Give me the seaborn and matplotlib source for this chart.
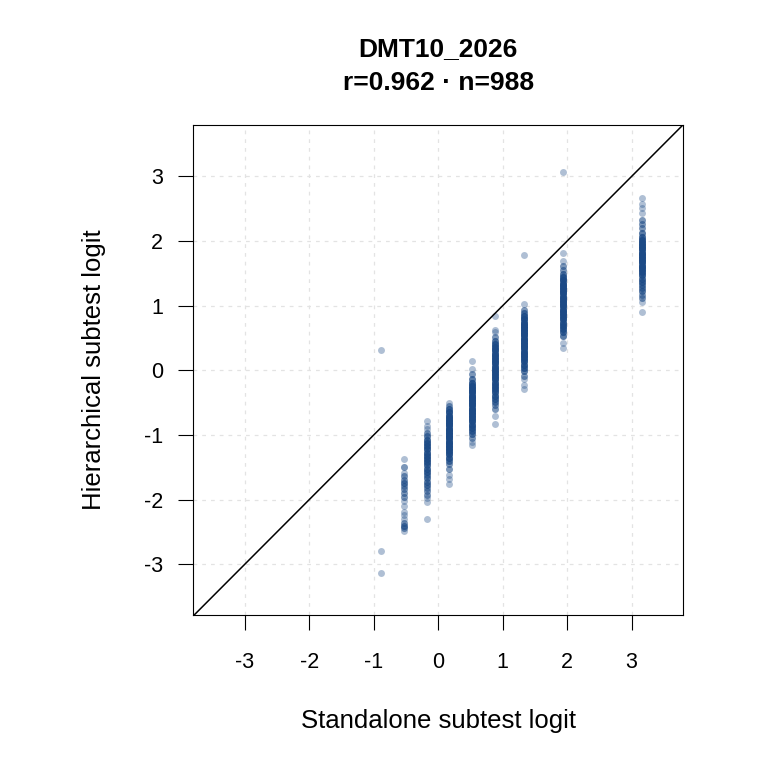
import numpy as np
import pandas as pd
import matplotlib
matplotlib.use("Agg")
import matplotlib.pyplot as plt
import seaborn as sns

# standalone logit of each raw-score column
col_x = [-0.88, -0.53, -0.17, 0.17, 0.53, 0.88, 1.33, 1.94, 3.16]

# hierarchical logits seen in each column, with how many persons sit on each value
y_m088 = [0.32, -2.79, -3.13]
n_m088 = [1, 1, 1]

y_m053 = [-1.37, -1.50, -1.58, -1.64, -1.70, -1.74, -1.79, -1.84, -1.90, -1.96,
          -2.02, -2.09, -2.19, -2.24, -2.30, -2.36, -2.40, -2.44, -2.49]
n_m053 = [1, 2, 1, 2, 2, 3, 2, 2, 2, 2, 1, 1, 1, 1, 1, 2, 3, 2, 1]

y_m017 = [-0.79, -0.86, -0.91, -0.97, -1.02, -1.07, -1.12, -1.17, -1.22, -1.27,
          -1.32, -1.37, -1.42, -1.47, -1.52, -1.57, -1.62, -1.67, -1.72, -1.77,
          -1.82, -1.87, -1.92, -1.97, -2.03, -2.30]
n_m017 = [1, 1, 1, 2, 3, 4, 5, 5, 5, 5, 5, 5, 5, 4, 4, 4, 3, 3, 3, 3, 2, 2, 2, 1, 1, 1]

y_p017 = [-0.50, -0.55, -0.60, -0.65, -0.70, -0.75, -0.80, -0.85, -0.90, -0.95,
          -1.00, -1.05, -1.10, -1.15, -1.20, -1.25, -1.30, -1.35, -1.40, -1.45,
          -1.53, -1.61, -1.68, -1.75]
n_p017 = [1, 2, 4, 6, 7, 8, 9, 9, 9, 9, 9, 9, 9, 8, 8, 7, 6, 5, 3, 2, 2, 1, 1, 1]

y_p053 = [0.15, 0.02, -0.06, -0.14, -0.19, -0.24, -0.29, -0.34, -0.39, -0.44,
          -0.49, -0.54, -0.59, -0.64, -0.69, -0.74, -0.79, -0.84, -0.89, -0.94,
          -0.99, -1.04, -1.10, -1.16]
n_p053 = [1, 1, 2, 3, 5, 7, 8, 9, 9, 9, 9, 9, 9, 9, 8, 8, 7, 6, 5, 4, 3, 2, 1, 1]

y_p088 = [0.84, 0.63, 0.59, 0.52, 0.46, 0.41, 0.36, 0.31, 0.26, 0.21,
          0.16, 0.11, 0.06, 0.01, -0.04, -0.09, -0.14, -0.19, -0.24, -0.29,
          -0.34, -0.39, -0.44, -0.49, -0.54, -0.60, -0.71, -0.83]
n_p088 = [1, 1, 1, 2, 3, 5, 6, 7, 7, 7, 7, 7, 7, 7, 7, 7, 7, 6, 6, 6, 5, 5, 4, 3, 2, 2, 1, 1]

y_p133 = [1.79, 1.02, 0.94, 0.89, 0.84, 0.79, 0.74, 0.69, 0.64, 0.59,
          0.54, 0.49, 0.44, 0.39, 0.34, 0.29, 0.24, 0.19, 0.14, 0.09,
          0.04, -0.01, -0.08, -0.14, -0.22, -0.29]
n_p133 = [1, 1, 2, 3, 5, 7, 8, 9, 9, 9, 9, 9, 9, 9, 9, 8, 8, 7, 6, 5, 4, 3, 2, 1, 1, 1]

y_p194 = [3.06, 1.81, 1.69, 1.62, 1.55, 1.49, 1.44, 1.39, 1.34, 1.29,
          1.24, 1.19, 1.14, 1.09, 1.04, 0.99, 0.94, 0.89, 0.84, 0.79,
          0.74, 0.69, 0.64, 0.59, 0.53, 0.43, 0.34]
n_p194 = [1, 1, 1, 2, 2, 3, 5, 7, 8, 8, 8, 8, 8, 8, 8, 8, 8, 8, 7, 7, 6, 6, 5, 4, 3, 1, 1]

y_p316 = [2.67, 2.57, 2.51, 2.44, 2.33, 2.27, 2.20, 2.13, 2.07, 2.02,
          1.97, 1.92, 1.87, 1.82, 1.77, 1.72, 1.67, 1.62, 1.57, 1.52,
          1.47, 1.42, 1.37, 1.32, 1.27, 1.22, 1.17, 1.12, 1.05, 0.90]
n_p316 = [1, 1, 1, 1, 2, 2, 2, 3, 4, 6, 7, 8, 8, 8, 8, 8, 8, 8, 7, 6, 5, 4, 4, 3, 3, 3, 2, 2, 1, 1]

col_y = [y_m088, y_m053, y_m017, y_p017, y_p053, y_p088, y_p133, y_p194, y_p316]
col_n = [n_m088, n_m053, n_m017, n_p017, n_p053, n_p088, n_p133, n_p194, n_p316]

title = "DMT10_2026\nr=0.962 \u00b7 n=988"
ticks = [-3, -2, -1, 0, 1, 2, 3]

# build long table, one row per person
rows = []
for x, ys, ns in zip(col_x, col_y, col_n):
    for y, n in zip(ys, ns):
        rows += [(x, y)] * n
df = pd.DataFrame(rows, columns=["standalone", "hierarchical"])

sns.set_style("white")
plt.rcParams["font.family"] = ["Liberation Sans", "DejaVu Sans"]
plt.rcParams["text.color"] = "black"
plt.rcParams["axes.labelcolor"] = "black"
plt.rcParams["xtick.color"] = "black"
plt.rcParams["ytick.color"] = "black"

fig = plt.figure(figsize=(7.6, 7.6), dpi=100)
ax = fig.add_axes([0.254, 0.191, 0.645, 0.645])

ax.grid(True, color="#e3e3e3", linestyle=(0, (3, 4)), linewidth=0.9)
ax.set_axisbelow(True)

sns.scatterplot(data=df, x="standalone", y="hierarchical", ax=ax,
                color="#1c4a86", alpha=0.35, s=25, linewidth=0, zorder=2)
ax.axline((0, 0), slope=1, color="black", linewidth=1.1, zorder=3)

ax.set_xlim(-3.8, 3.8)
ax.set_ylim(-3.78, 3.8)
ax.set_xticks(ticks)
ax.set_yticks(ticks)
ax.set_xticklabels([str(t) for t in ticks])
ax.set_yticklabels([str(t) for t in ticks])
ax.tick_params(axis="both", direction="out", length=10.8, width=0.8,
               color="black", labelcolor="black", labelsize=15.5,
               bottom=True, left=True)
ax.tick_params(axis="x", pad=16)
ax.tick_params(axis="y", pad=11)

for sp in ax.spines.values():
    sp.set_visible(True)
    sp.set_color("black")
    sp.set_linewidth(0.8)

ax.set_xlabel("Standalone subtest logit", fontsize=18.5, labelpad=26, color="black")
ax.set_ylabel("Hierarchical subtest logit", fontsize=18.5, labelpad=27, color="black")
ax.set_title(title, fontsize=19, fontweight="bold", pad=25, linespacing=1.52,
             color="black")

fig.savefig("out.png", dpi=100)
